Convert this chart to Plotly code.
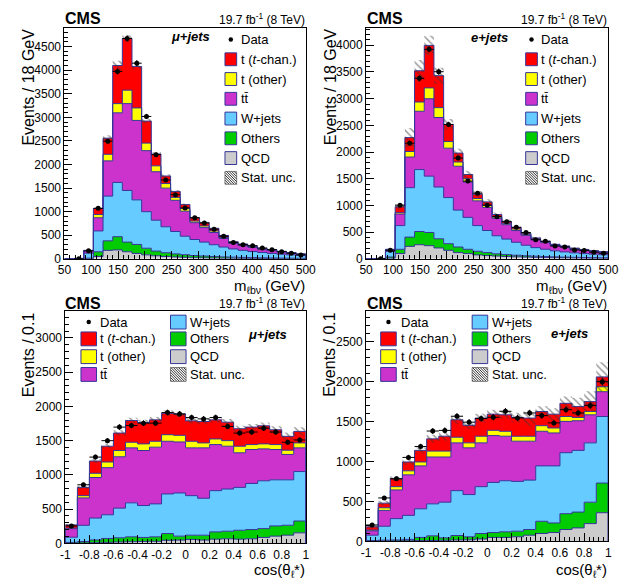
import numpy as np
import plotly.graph_objects as go

# ---------------- data ----------------
m_edges = list(range(50, 501, 18))            # 25 bins of 18 GeV
cos_edges = [round(-1 + 0.1 * i, 2) for i in range(21)]   # 20 bins of 0.1
m_ticks = [50, 100, 150, 200, 250, 300, 350, 400, 450, 500]
cos_ticks = [-1, -0.8, -0.6, -0.4, -0.2, 0, 0.2, 0.4, 0.6, 0.8, 1]
cos_ticklabels = ["-1", "-0.8", "-0.6", "-0.4", "-0.2", "0", "0.2", "0.4", "0.6", "0.8", "1"]

# mu+jets, m_lbv
mu_m_qcd = [0, 0, 5, 50, 180, 190, 150, 115, 85, 65, 50, 40, 32, 25, 20, 16, 13, 11, 9, 8, 7, 6, 5, 4, 3]
mu_m_others = [0, 1, 10, 100, 203, 280, 205, 190, 140, 100, 80, 65, 56, 45, 40, 34, 29, 25, 22, 19, 16, 14, 12, 11, 10]
mu_m_wjets = [0, 5, 105, 442, 947, 1150, 1095, 945, 775, 655, 550, 475, 392, 340, 295, 250, 208, 174, 149, 128, 112, 95, 81, 70, 59]
mu_m_ttbar = [0, 2, 50, 279, 747, 1475, 1840, 1684, 1293, 1027, 819, 661, 530, 357, 307, 258, 182, 118, 99, 89, 60, 59, 48, 35, 23]
mu_m_tother = [0, 0, 5, 70, 139, 195, 286, 265, 160, 125, 97, 62, 56, 34, 35, 34, 21, 12, 11, 11, 10, 8, 6, 6, 5]
mu_m_tchan = [0, 1, 5, 125, 342, 808, 1094, 878, 467, 251, 160, 126, 84, 70, 70, 56, 42, 22, 24, 17, 18, 13, 8, 6, 5]
mu_m_data = [None, 3, 170, 1070, 2495, 3973, 4670, 4147, 3018, 2209, 1673, 1359, 1080, 871, 760, 627, 481, 348, 300, 279, 230, 195, 153, 118, 84]
mu_m_unc = [0, 2, 10, 30, 60, 100, 70, 60, 45, 40, 35, 30, 25, 20, 18, 16, 14, 12, 11, 10, 9, 8, 8, 7, 6]

# e+jets, m_lbv
e_m_qcd = [0, 0, 10, 99, 234, 265, 247, 204, 160, 117, 99, 74, 62, 52, 44, 38, 33, 28, 24, 21, 18, 16, 14, 12, 11]
e_m_others = [0, 1, 25, 80, 173, 247, 247, 172, 124, 105, 80, 68, 55, 43, 36, 30, 25, 22, 19, 17, 15, 13, 12, 11, 9]
e_m_wjets = [0, 4, 105, 444, 926, 1160, 1055, 969, 864, 691, 598, 481, 414, 337, 290, 242, 197, 160, 137, 112, 97, 83, 72, 65, 58]
e_m_ttbar = [0, 2, 25, 216, 574, 1092, 1450, 1302, 925, 821, 661, 463, 432, 327, 270, 220, 185, 150, 125, 100, 92, 73, 64, 52, 44]
e_m_tother = [0, 0, 5, 26, 104, 173, 203, 185, 124, 80, 62, 44, 37, 26, 25, 30, 20, 15, 13, 12, 10, 8, 7, 7, 6]
e_m_tchan = [0, 1, 9, 110, 260, 586, 796, 599, 320, 167, 80, 79, 67, 45, 35, 30, 20, 15, 12, 10, 8, 7, 6, 5, 4]
e_m_data = [None, 4, 160, 1006, 2166, 3381, 3924, 3505, 2517, 1888, 1456, 1230, 1006, 790, 695, 590, 494, 358, 328, 240, 222, 167, 155, 124, 105]
e_m_unc = [0, 2, 12, 50, 180, 200, 180, 150, 100, 80, 70, 60, 50, 40, 35, 30, 25, 22, 20, 18, 16, 14, 13, 12, 11]

# mu+jets, cos(theta_l*)
mu_c_qcd = [3, 6, 10, 15, 20, 25, 28, 30, 45, 48, 58, 48, 62, 67, 62, 67, 87, 106, 120, 154]
mu_c_others = [12, 22, 40, 57, 62, 71, 59, 66, 99, 58, 62, 72, 106, 111, 130, 135, 129, 149, 145, 173]
mu_c_wjets = [75, 236, 320, 346, 433, 496, 466, 481, 578, 630, 577, 539, 602, 616, 626, 673, 698, 673, 663, 722]
mu_c_ttbar = [125, 400, 592, 688, 750, 803, 803, 828, 769, 745, 698, 736, 673, 625, 505, 496, 466, 443, 371, 346]
mu_c_tother = [8, 33, 62, 82, 91, 82, 97, 86, 96, 97, 96, 72, 82, 81, 96, 72, 73, 72, 62, 72]
mu_c_tchan = [47, 121, 179, 231, 255, 317, 312, 313, 313, 312, 298, 313, 279, 270, 255, 255, 264, 216, 202, 168]
mu_c_data = [255, 856, 1260, 1500, 1698, 1722, 1756, 1756, 1910, 1890, 1837, 1818, 1837, 1708, 1611, 1626, 1683, 1626, 1477, 1510]
mu_c_unc = [15, 25, 30, 35, 40, 40, 40, 40, 40, 40, 40, 40, 40, 45, 45, 45, 50, 50, 55, 60]

# e+jets, cos(theta_l*)
e_c_qcd = [3, 5, 6, 8, 10, 12, 14, 18, 20, 30, 50, 50, 58, 78, 99, 111, 149, 169, 223, 359]
e_c_others = [7, 10, 12, 17, 40, 58, 31, 56, 38, 69, 61, 70, 70, 71, 153, 120, 198, 198, 268, 371]
e_c_wjets = [68, 175, 267, 301, 358, 400, 446, 561, 528, 586, 627, 639, 623, 618, 693, 714, 763, 772, 742, 833]
e_c_ttbar = [54, 198, 359, 507, 537, 586, 565, 598, 585, 548, 586, 557, 503, 487, 433, 412, 392, 371, 351, 310]
e_c_tother = [10, 33, 41, 50, 49, 74, 74, 71, 62, 83, 66, 62, 62, 62, 70, 62, 61, 41, 41, 62]
e_c_tchan = [40, 58, 103, 111, 145, 153, 186, 218, 219, 227, 202, 206, 235, 227, 177, 173, 165, 136, 124, 123]
e_c_data = [206, 544, 783, 1051, 1187, 1381, 1389, 1566, 1492, 1537, 1553, 1628, 1545, 1607, 1574, 1483, 1648, 1607, 1702, 1998]
e_c_unc = [20, 30, 30, 35, 35, 50, 55, 50, 45, 55, 55, 50, 60, 100, 65, 75, 85, 110, 130, 185]

# ---------------- styling ----------------
W, H = 633, 583
FONT = "Liberation Sans, Arial, Helvetica, sans-serif"
C_QCD, C_OTH, C_W, C_TT, C_TO, C_TC = "#CCCCCC", "#00CC00", "#66CCFF", "#CC33CC", "#FFFF00", "#FF0000"
EDGE = "#35359a"
colors = [C_QCD, C_OTH, C_W, C_TT, C_TO, C_TC]


def px(x):
    return x / W


def py(y):
    return 1 - y / H


fig = go.Figure()

panels = [
    dict(ax="", edges=m_edges, comps=[mu_m_qcd, mu_m_others, mu_m_wjets, mu_m_ttbar, mu_m_tother, mu_m_tchan],
         data=mu_m_data, unc=mu_m_unc, xd=(59, 307), yd=(262, 28), yr=4900),
    dict(ax="2", edges=m_edges, comps=[e_m_qcd, e_m_others, e_m_wjets, e_m_ttbar, e_m_tother, e_m_tchan],
         data=e_m_data, unc=e_m_unc, xd=(369, 618), yd=(262, 28), yr=4330),
    dict(ax="3", edges=cos_edges, comps=[mu_c_qcd, mu_c_others, mu_c_wjets, mu_c_ttbar, mu_c_tother, mu_c_tchan],
         data=mu_c_data, unc=mu_c_unc, xd=(60, 307), yd=(550, 315), yr=3390),
    dict(ax="4", edges=cos_edges, comps=[e_c_qcd, e_c_others, e_c_wjets, e_c_ttbar, e_c_tother, e_c_tchan],
         data=e_c_data, unc=e_c_unc, xd=(369, 618), yd=(548, 315), yr=2880),
]

layout_axes = {}
for p in panels:
    xa, ya = "x" + p["ax"], "y" + p["ax"]
    edges = list(p["edges"])
    n = len(edges) - 1
    cum = np.zeros(n)
    for i, (vals, col) in enumerate(zip(p["comps"], colors)):
        cum = cum + np.array(vals, dtype=float)
        xs = [edges[0]] + edges[:n] + [edges[n], edges[n]]
        ys = [0.0] + list(cum) + [cum[-1], 0.0]
        fig.add_trace(go.Scatter(
            x=xs, y=ys, xaxis=xa, yaxis=ya, mode="lines",
            line=dict(shape="hv", color=EDGE, width=1),
            fill="tozeroy" if i == 0 else "tonexty", fillcolor=col,
            showlegend=False, hoverinfo="skip"))
    unc = np.array(p["unc"], dtype=float)
    lo = cum - unc
    hi = cum + unc
    xs_b = edges[:n] + [edges[n]]
    fig.add_trace(go.Scatter(x=xs_b, y=list(lo) + [lo[-1]], xaxis=xa, yaxis=ya, mode="lines",
                             line=dict(shape="hv", width=0, color="rgba(0,0,0,0)"),
                             showlegend=False, hoverinfo="skip"))
    fig.add_trace(go.Scatter(x=xs_b, y=list(hi) + [hi[-1]], xaxis=xa, yaxis=ya, mode="lines",
                             line=dict(shape="hv", width=0, color="rgba(0,0,0,0)"),
                             fill="tonexty", fillcolor="rgba(0,0,0,0)",
                             fillpattern=dict(shape="\\", fgcolor="#3a3a3a", bgcolor="rgba(0,0,0,0)",
                                              size=5, solidity=0.3),
                             showlegend=False, hoverinfo="skip"))
    centers = [(edges[i] + edges[i + 1]) / 2 for i in range(n)]
    halfw = (edges[1] - edges[0]) / 2
    dvals = p["data"]
    derr = [np.sqrt(v) if v is not None else 0 for v in dvals]
    fig.add_trace(go.Scatter(x=centers, y=dvals, xaxis=xa, yaxis=ya, mode="markers",
                             marker=dict(color="black", size=5),
                             error_y=dict(type="data", array=derr, color="black", thickness=1, width=0),
                             error_x=dict(type="constant", value=halfw, color="black", thickness=1, width=0),
                             showlegend=False, hoverinfo="skip"))

    is_m = p["ax"] in ("", "2")
    xaxis = dict(domain=[px(p["xd"][0]), px(p["xd"][1])], anchor=ya,
                 range=[edges[0], edges[-1]], showline=True, linecolor="black", linewidth=1,
                 mirror=True, ticks="inside", ticklen=8, tickcolor="black", showgrid=False,
                 zeroline=False, ticklabelstandoff=0,
                 tickfont=dict(family=FONT, size=12, color="black"))
    if is_m:
        xaxis.update(tickmode="array", tickvals=m_ticks, ticktext=[str(t) for t in m_ticks],
                     minor=dict(ticks="inside", ticklen=4, dtick=10, tick0=50, tickcolor="black"))
    else:
        xaxis.update(tickmode="array", tickvals=cos_ticks, ticktext=cos_ticklabels,
                     minor=dict(ticks="inside", ticklen=4, dtick=0.04, tick0=-1, tickcolor="black"))
    yaxis = dict(domain=[py(p["yd"][0]), py(p["yd"][1])], anchor=xa,
                 range=[0, p["yr"]], showline=True, linecolor="black", linewidth=1,
                 mirror=True, ticks="inside", ticklen=8, tickcolor="black", showgrid=False,
                 zeroline=False, dtick=500, tick0=0,
                 minor=dict(ticks="inside", ticklen=4, dtick=100, tickcolor="black"),
                 tickfont=dict(family=FONT, size=12, color="black"))
    layout_axes["xaxis" + p["ax"]] = xaxis
    layout_axes["yaxis" + p["ax"]] = yaxis

annotations = []
shapes = []


def text(x, y, s, size=13, xanchor="left", yanchor="middle", angle=0):
    annotations.append(dict(x=px(x), y=py(y), xref="paper", yref="paper", text=s, showarrow=False,
                            xanchor=xanchor, yanchor=yanchor, textangle=angle, borderpad=0,
                            font=dict(family=FONT, size=size, color="black")))


# headers and axis titles
for (xl, xr, yh, ytitle, ytop, ycx, xtitle, xty, chan, chx, chy) in [
    (59, 307, 19, "Events / 18 GeV", 28, 22, "m<sub>ℓbν</sub> (GeV)", 290, "μ+jets", 167, 37),
    (369, 618, 19, "Events / 18 GeV", 28, 332, "m<sub>ℓbν</sub> (GeV)", 290, "e+jets", 476, 38),
    (59, 307, 307, "Events / 0.1", 315, 22, "cos(θ<sub>ℓ</sub>*)", 577, "μ+jets", 247, 339),
    (369, 618, 307, "Events / 0.1", 315, 332, "cos(θ<sub>ℓ</sub>*)", 577, "e+jets", 558, 338),
]:
    text(xl, yh, "<b>CMS</b>", size=16, xanchor="left")
    text(xr, yh, "19.7 fb<sup>-1</sup> (8 TeV)", size=12, xanchor="right")
    text(ycx, ytop, ytitle, size=16, xanchor="center", yanchor="top", angle=-90)
    text(xr, xty, xtitle, size=15, xanchor="right")
    text(chx, chy, "<b><i>" + chan + "</i></b>", size=13, xanchor="left")


def box(x0, yc, w, h, color):
    shapes.append(dict(type="rect", xref="paper", yref="paper", x0=px(x0), x1=px(x0 + w),
                       y0=py(yc + h / 2), y1=py(yc - h / 2), fillcolor=color,
                       line=dict(color=EDGE, width=1)))


def hatch_box(x0, yc, w, h):
    y0, y1 = yc - h / 2, yc + h / 2
    x1 = x0 + w
    segs = []
    c = (y0 - x1)
    while c <= (y1 - x0):
        pts = []
        for xx in (x0, x1):
            yy = xx + c
            if y0 <= yy <= y1:
                pts.append((xx, yy))
        for yy in (y0, y1):
            xx = yy - c
            if x0 <= xx <= x1:
                pts.append((xx, yy))
        if len(pts) >= 2:
            pts = sorted(pts)
            segs.append("M%.5f,%.5f L%.5f,%.5f" % (px(pts[0][0]), py(pts[0][1]), px(pts[-1][0]), py(pts[-1][1])))
        c += 2.6
    shapes.append(dict(type="rect", xref="paper", yref="paper", x0=px(x0), x1=px(x1),
                       y0=py(y1), y1=py(y0), fillcolor="white", line=dict(color="#888888", width=1)))
    shapes.append(dict(type="path", xref="paper", yref="paper", path=" ".join(segs),
                       line=dict(color="#333333", width=1)))


def dot(xc, yc, r=2.3):
    shapes.append(dict(type="circle", xref="paper", yref="paper", x0=px(xc - r), x1=px(xc + r),
                       y0=py(yc + r), y1=py(yc - r), fillcolor="black", line=dict(color="black", width=0)))


labels = ["t (<i>t</i>-chan.)", "t (other)", "tt\u0304", "W+jets", "Others", "QCD"]
lcolors = [C_TC, C_TO, C_TT, C_W, C_OTH, C_QCD]

# top legends (single column)
for bx, tx in [(224, 239), (533, 548)]:
    dot(bx + 6, 40)
    text(tx, 40, "Data")
    for k, (lab, col) in enumerate(zip(labels, lcolors)):
        yc = 60 + 20 * k
        box(bx, yc, 12, 13, col)
        text(tx, yc, lab)
    hatch_box(bx, 180, 12, 13)
    text(tx, 180, "Stat. unc.")

# bottom legends (two columns)
for lbx, ltx, rbx, rtx in [(76, 95, 168, 187), (384, 404, 478, 497)]:
    rows = [326, 343, 361, 379]
    dot(lbx + 8, rows[0])
    text(ltx, rows[0], "Data")
    for k in range(3):
        box(lbx, rows[k + 1], 16, 14, lcolors[k])
        text(ltx, rows[k + 1], labels[k])
    for k in range(3):
        box(rbx, rows[k], 16, 14, lcolors[k + 3])
        text(rtx, rows[k], labels[k + 3])
    hatch_box(rbx, rows[3], 16, 14)
    text(rtx, rows[3], "Stat. unc.")

fig.update_layout(
    width=W, height=H, margin=dict(l=0, r=0, t=0, b=0),
    paper_bgcolor="white", plot_bgcolor="white", showlegend=False,
    font=dict(family=FONT, size=12, color="black"),
    annotations=annotations, shapes=shapes, **layout_axes)

fig.write_html("out.html")
